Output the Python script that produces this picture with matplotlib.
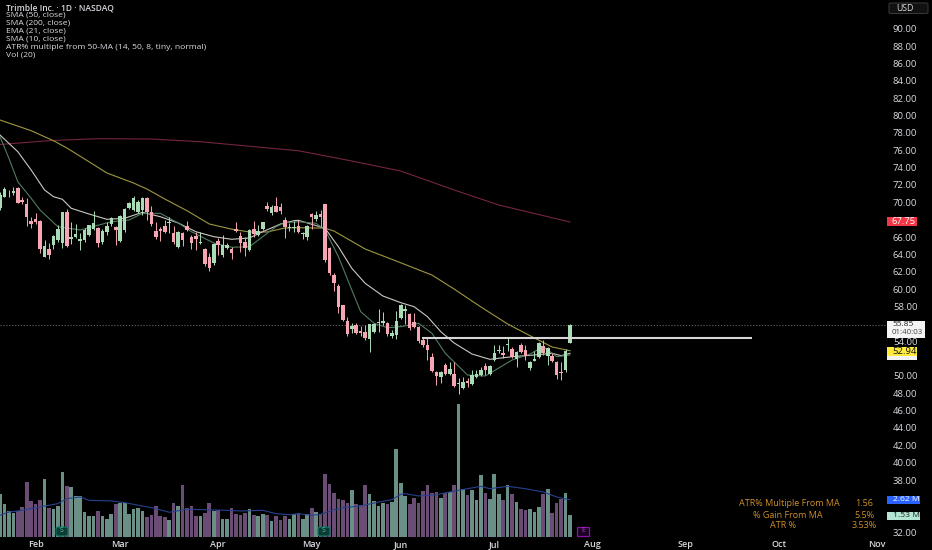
import matplotlib
matplotlib.use("Agg")
import matplotlib.pyplot as plt
from matplotlib.patches import Rectangle, FancyBboxPatch

opens = [69.31,70.65,71.03,71.03,71.61,70.27,69.81,67.89,68.08,67.89,
 63.74,64.63,65.09,65.66,65.36,68.89,65.74,66.05,65.59,65.66,
 66.28,66.97,67.01,65.39,66.62,67.54,67.12,65.51,66.81,69.31,
 69.12,68.85,69.12,70.46,68.89,66.74,66.89,67.31,67.66,66.43,
 64.89,66.51,67.27,65.97,66.16,65.36,64.59,63.67,62.97,65.51,
 63.97,64.70,64.63,66.97,66.08,65.43,64.51,66.89,66.28,66.89,
 69.54,68.73,69.54,69.42,67.97,67.08,67.04,67.27,66.35,66.04,
 68.62,68.04,68.62,69.81,64.70,61.63,60.40,58.17,56.33,55.41,
 55.87,55.14,55.06,54.26,55.02,56.06,56.14,56.14,54.60,54.75,
 56.67,57.52,57.14,56.21,55.68,54.18,53.60,52.14,50.49,49.92,
 51.30,50.18,50.22,49.07,48.65,49.38,49.07,49.84,50.11,51.18,
 50.22,51.84,52.87,52.60,53.56,53.10,51.95,53.56,52.99,50.95,
 51.76,52.22,53.45,52.34,52.30,51.60,50.49,50.68,53.76]
closes = [70.85,71.50,71.11,71.34,69.96,70.04,68.35,67.50,67.77,64.59,
 65.01,63.93,66.12,66.89,68.85,65.01,66.05,66.35,65.74,66.81,
 67.35,67.66,65.36,66.74,67.27,68.23,66.81,68.43,69.19,69.96,
 70.46,70.08,70.46,68.93,67.50,66.05,66.74,66.55,67.77,65.47,
 66.62,65.66,66.81,65.36,65.82,65.47,62.90,62.44,65.20,65.05,
 65.09,65.09,64.20,66.70,65.36,64.74,66.81,66.35,66.74,67.70,
 69.23,69.42,68.93,69.00,67.12,67.20,67.20,66.58,66.50,67.27,
 68.35,68.50,68.35,63.36,61.82,60.74,57.98,56.44,54.79,55.75,
 54.98,54.91,54.33,55.94,55.98,56.25,56.33,54.79,54.91,56.37,
 58.17,57.71,55.48,55.68,54.06,53.56,52.95,50.53,49.99,50.41,
 50.22,50.76,48.84,49.22,49.26,49.22,50.11,50.22,50.68,50.68,
 51.14,52.60,52.99,52.41,53.68,52.22,52.72,52.72,52.30,51.57,
 51.91,53.76,52.60,53.18,51.76,50.07,50.38,52.91,55.87]
highs = [71.23,71.73,71.42,71.81,71.73,70.58,70.46,68.27,68.73,67.97,
 65.66,65.28,66.28,67.39,68.93,69.19,67.77,67.47,66.43,67.01,
 67.43,69.04,67.20,66.89,67.77,68.35,67.27,68.54,69.31,70.08,
 70.77,70.27,70.65,70.65,69.58,67.77,67.20,67.97,68.35,67.27,
 66.74,66.58,67.89,66.24,66.55,66.62,64.70,64.13,65.36,65.85,
 66.24,65.36,64.89,67.74,66.62,66.05,66.97,67.89,67.39,67.77,
 70.08,69.73,70.65,69.96,68.27,67.58,67.85,67.97,66.62,67.39,
 68.81,69.04,69.12,69.81,64.82,61.82,60.59,58.17,56.83,56.06,
 56.14,55.75,55.87,55.98,56.06,57.67,57.40,56.25,55.29,57.52,
 58.25,58.17,57.21,57.29,55.75,54.52,54.33,52.60,50.57,50.53,
 51.53,51.61,51.64,49.72,49.84,49.72,50.68,50.68,51.07,51.53,
 51.26,53.56,53.56,53.45,54.52,53.29,52.87,53.76,53.56,51.76,
 52.91,53.87,54.14,53.29,52.60,51.68,51.64,53.06,55.95]
lows = [69.12,70.58,70.65,70.85,69.96,69.81,67.27,67.01,67.50,64.13,
 63.67,63.51,64.63,65.47,64.78,64.89,65.20,65.93,64.51,65.47,
 66.12,66.81,64.82,65.20,66.24,67.27,65.09,65.39,66.62,69.19,
 69.04,68.73,68.54,67.97,67.27,65.74,65.55,66.43,66.43,65.20,
 64.78,65.01,66.70,64.59,64.51,65.20,62.67,62.05,62.78,63.93,
 63.74,64.63,63.47,66.62,64.32,63.86,64.43,65.97,66.12,66.81,
 69.00,68.50,68.85,68.66,65.85,66.70,66.62,66.51,65.74,65.66,
 66.89,67.89,67.20,63.16,61.67,59.82,57.29,56.37,54.60,54.91,
 54.83,54.60,54.14,52.80,54.91,55.10,55.87,54.60,54.33,54.22,
 56.52,55.98,55.29,55.56,53.83,53.37,51.84,50.45,48.96,49.15,
 50.07,50.07,48.76,47.92,48.46,48.76,48.96,49.72,49.99,50.07,
 50.07,51.76,52.60,52.03,52.91,52.10,51.07,52.60,51.84,50.68,
 51.68,52.10,52.41,51.26,51.64,49.61,49.53,50.49,53.76]
volumes = [3.00,2.30,1.83,1.71,1.83,2.11,3.87,2.51,2.35,2.63,
 4.11,2.04,2.00,2.18,4.58,3.57,3.54,2.89,2.89,1.76,
 1.50,1.48,1.83,1.46,1.27,1.64,2.30,2.42,2.42,1.60,
 1.95,2.02,1.83,1.43,1.57,2.18,1.46,1.38,1.17,2.42,
 2.18,3.69,2.07,2.21,1.46,1.46,1.71,2.37,1.81,1.90,
 1.27,1.27,2.04,1.60,1.55,1.67,1.95,1.57,1.46,1.60,
 1.55,1.10,1.48,1.17,1.50,1.29,1.60,1.69,1.27,1.64,
 2.07,1.74,1.64,4.41,3.71,3.10,2.65,2.58,2.39,3.33,
 2.35,2.23,3.64,3.00,2.51,2.18,2.42,2.30,2.46,6.22,
 3.80,2.86,2.35,2.72,2.39,3.22,3.69,3.12,3.19,2.75,
 3.12,3.19,3.64,9.39,3.36,2.93,3.29,2.58,4.34,3.10,
 2.68,4.41,3.03,2.63,3.64,3.03,2.46,2.00,1.92,2.00,
 1.76,2.11,3.00,3.36,1.69,2.42,2.70,3.10,1.53]

sma200_x = [0,11,22,34,45,67,79,90,102,112,128]
sma200_y = [76.66,77.10,77.33,77.29,76.98,75.94,74.76,73.60,71.42,69.69,67.73]
sma50_x = [0,7,12,15,19,24,30,33,37,42,47,52,56,60,64,67,73,75,82,89,97,102,108,114,120,124,128]
sma50_y = [79.48,78.25,77.10,76.26,74.99,73.38,72.22,71.53,70.38,69.03,67.50,66.91,66.58,66.58,67.04,67.07,
           67.02,66.69,64.62,63.23,61.62,60.00,57.94,55.98,54.37,53.33,52.90]
sma10_x = [0,4,7,10,12,14,16,20,24,28,32,36,40,44,48,52,56,59,63,66,67,73,76,79,82,86,90,93,96,99,102,106,110,115,120,124,126,128]
sma10_y = [77.75,75.83,73.72,71.42,70.65,70.35,69.31,68.65,68.04,68.16,68.85,68.34,67.62,66.61,66.04,65.74,65.89,
           66.61,67.50,67.88,67.93,67.00,64.88,62.40,60.67,59.20,58.44,57.97,56.82,55.09,53.79,52.52,51.91,52.21,52.41,52.60,52.33,52.60]
ema21_x = [0,2,4,7,9,13,18,25,29,32,36,40,43,48,52,56,59,62,64,67,71,73,76,79,81,84,87,90,94,97,100,105,109,112,115,119,122,125,128]
ema21_y = [77.56,75.07,72.37,70.46,69.11,67.19,66.81,67.76,67.96,68.73,68.73,67.62,66.61,65.31,64.82,64.88,66.04,
           67.19,67.65,67.76,67.58,66.81,63.73,59.90,57.40,56.06,55.55,55.67,56.06,54.91,52.60,50.10,49.99,50.91,51.83,52.52,53.36,52.21,52.41]
volma_x = [0,2,4,7,10,13,15,18,20,25,28,32,35,38,42,46,51,54,59,62,65,67,70,72,75,77,81,85,88,90,91,94,98,103,108,110,114,118,122,125,128]
volma_y = [1.53,1.76,1.83,2.00,2.18,2.35,2.70,2.82,2.58,2.54,2.42,2.18,2.00,1.74,1.95,1.92,1.88,1.83,1.88,1.64,1.57,1.64,
           1.53,1.60,1.92,2.07,2.18,2.46,2.63,3.00,3.05,2.89,2.98,3.29,3.57,3.40,3.57,3.40,3.17,2.82,2.62]

price_ticks = [32,38,40,42,44,46,48,50,54,58,60,62,64,66,70,72,74,76,78,80,82,84,86,88,90]
month_pos = [8,27,49,70,90,111,133,154,175,197]
month_labels = ["Feb","Mar","Apr","May","Jun","Jul","Aug","Sep","Oct","Nov"]
legend_lines = ["Trimble Inc. · 1D · NASDAQ","SMA (50, close)","SMA (200, close)","EMA (21, close)","SMA (10, close)",
                "ATR% multiple from 50-MA (14, 50, 8, tiny, normal)","Vol (20)"]
level_price = 54.40
last_price = 55.85

plt.rcParams['font.family'] = ['Open Sans','DejaVu Sans']
W, H = 932, 550
TXT = '#d9dbe0'
UP, DN = '#a9dcb6', '#f6a6b2'
VUP, VDN = '#6a8f86', '#6a4c74'

fig = plt.figure(figsize=(W/100, H/100), dpi=100, facecolor='black')
ax = fig.add_axes([0, (H-537)/H, 886/W, 537/H], facecolor='black')
ax.set_xlim(0, 886/4.453)
ax.set_ylim(90-(537-28.7)/8.68, 90+28.7/8.68)

vax = ax.twinx()
vax.set_ylim(0, 537/14.2)
vax.axis('off')
vax.set_zorder(0)
ax.set_zorder(1)
ax.patch.set_visible(False)
vax.patch.set_visible(True); vax.patch.set_facecolor('black')

for s in ax.spines.values():
    s.set_visible(False)
ax.yaxis.tick_right()
ax.set_yticks(price_ticks)
ax.set_yticklabels([f"{p:.2f}" for p in price_ticks], color=TXT, fontsize=6.8, fontweight='medium')
ax.set_xticks(month_pos)
ax.set_xticklabels(month_labels, color=TXT, fontsize=6.5, fontweight='semibold')
ax.tick_params(axis='both', length=0)
ax.tick_params(axis='y', pad=5)
ax.tick_params(axis='x', pad=2)

idx = list(range(len(closes)))
vcol = [VUP if c >= o else VDN for o, c in zip(opens, closes)]
vax.bar(idx, volumes, width=0.82, color=vcol, linewidth=0)
vax.plot(volma_x, volma_y, color='#26428f', lw=0.8)

ax.plot(sma200_x, sma200_y, color='#74263a', lw=0.8, zorder=2)
ax.plot(sma50_x, sma50_y, color='#9e9840', lw=0.8, zorder=2)
ax.plot(sma10_x, sma10_y, color='#c9c9c2', lw=0.8, zorder=2)
ax.plot(ema21_x, ema21_y, color='#4f7d5f', lw=0.8, zorder=2)

ccol = [UP if c >= o else DN for o, c in zip(opens, closes)]
ax.vlines(idx, lows, highs, colors=ccol, lw=0.7, zorder=3)
ax.bar(idx, [abs(c-o) for o, c in zip(opens, closes)], bottom=[min(o, c) for o, c in zip(opens, closes)],
       width=0.8, color=ccol, linewidth=0, zorder=3)

ax.hlines(level_price, 94.8, 168.9, color='#d6d6d6', lw=1.5, zorder=4)
ax.axhline(last_price, color='#6f7278', lw=0.6, ls=(0, (1.5, 2)), zorder=1)

def box(x0, y0, x1, y1, color, **kw):
    fig.add_artist(Rectangle((x0/W, 1-y1/H), (x1-x0)/W, (y1-y0)/H, transform=fig.transFigure,
                             facecolor=color, edgecolor='none', **kw))
def label(x, y, s, color=TXT, size=6.8, ha='left', **kw):
    fig.text(x/W, 1-y/H, s, color=color, fontsize=size, ha=ha, va='center', **kw)

for i, line in enumerate(legend_lines):
    label(6, 7.5+i*8, line, size=6.1, fontweight='semibold' if i == 0 else 'normal')

box(887, 355, 917, 360, '#f2f2f2')
box(887, 347, 917, 356, '#ffeb3b')
label(892, 351.5, "52.94", color='#111111')
box(887, 320.5, 925, 337.5, '#f4f4f4')
label(892, 325, "55.85", color='#222222', size=6.0)
label(892, 333, "01:40:03", color='#444444', size=5.7)
box(887, 217, 917, 226, '#f23645')
label(892, 221.5, "67.75", color='#ffffff')
box(887, 495.5, 919.5, 503.5, '#2962ff')
label(893, 499.5, "2.62 M", color='#ffffff', size=6.1)
box(887, 511.5, 919.5, 519.5, '#b2e5d2')
label(893, 515.5, "1.53 M", color='#222222', size=6.1)

fig.add_artist(FancyBboxPatch((889/W, 1-13.5/H), 39/W, 10.5/H, boxstyle="round,pad=0,rounding_size=0.002",
                              transform=fig.transFigure, facecolor='#111111', edgecolor='#3a3a3a', lw=0.7))
label(896, 8.5, "USD", size=6.3)

ORANGE = '#cf8f28'
for y, name, val, cx in [(504, "ATR% Multiple From MA", "1.56", 789), (515, "% Gain From MA", "5.5%", 788), (526, "ATR %", "3.53%", 783)]:
    label(cx, y, name, color=ORANGE, size=6.5, ha='center', fontweight='medium')
    label(864, y, val, color=ORANGE, size=6.5, ha='center', fontweight='medium')

for cx in (62, 324):
    fig.add_artist(FancyBboxPatch(((cx-6)/W, 1-536/H), 12/W, 9/H, boxstyle="round,pad=0,rounding_size=0.003",
                                  transform=fig.transFigure, facecolor='#0b3d34', edgecolor='#137a66', lw=0.8))
    label(cx, 531, "S", color='#5fc4ae', size=5, ha='center')
fig.add_artist(Rectangle((577/W, 1-536/H), 12/W, 9/H, transform=fig.transFigure, facecolor='#1a0322', edgecolor='#8b12a8', lw=0.9))
label(583, 531, "E", color='#b03bd0', size=5, ha='center')

fig.savefig("out.png", dpi=100, facecolor='black')
